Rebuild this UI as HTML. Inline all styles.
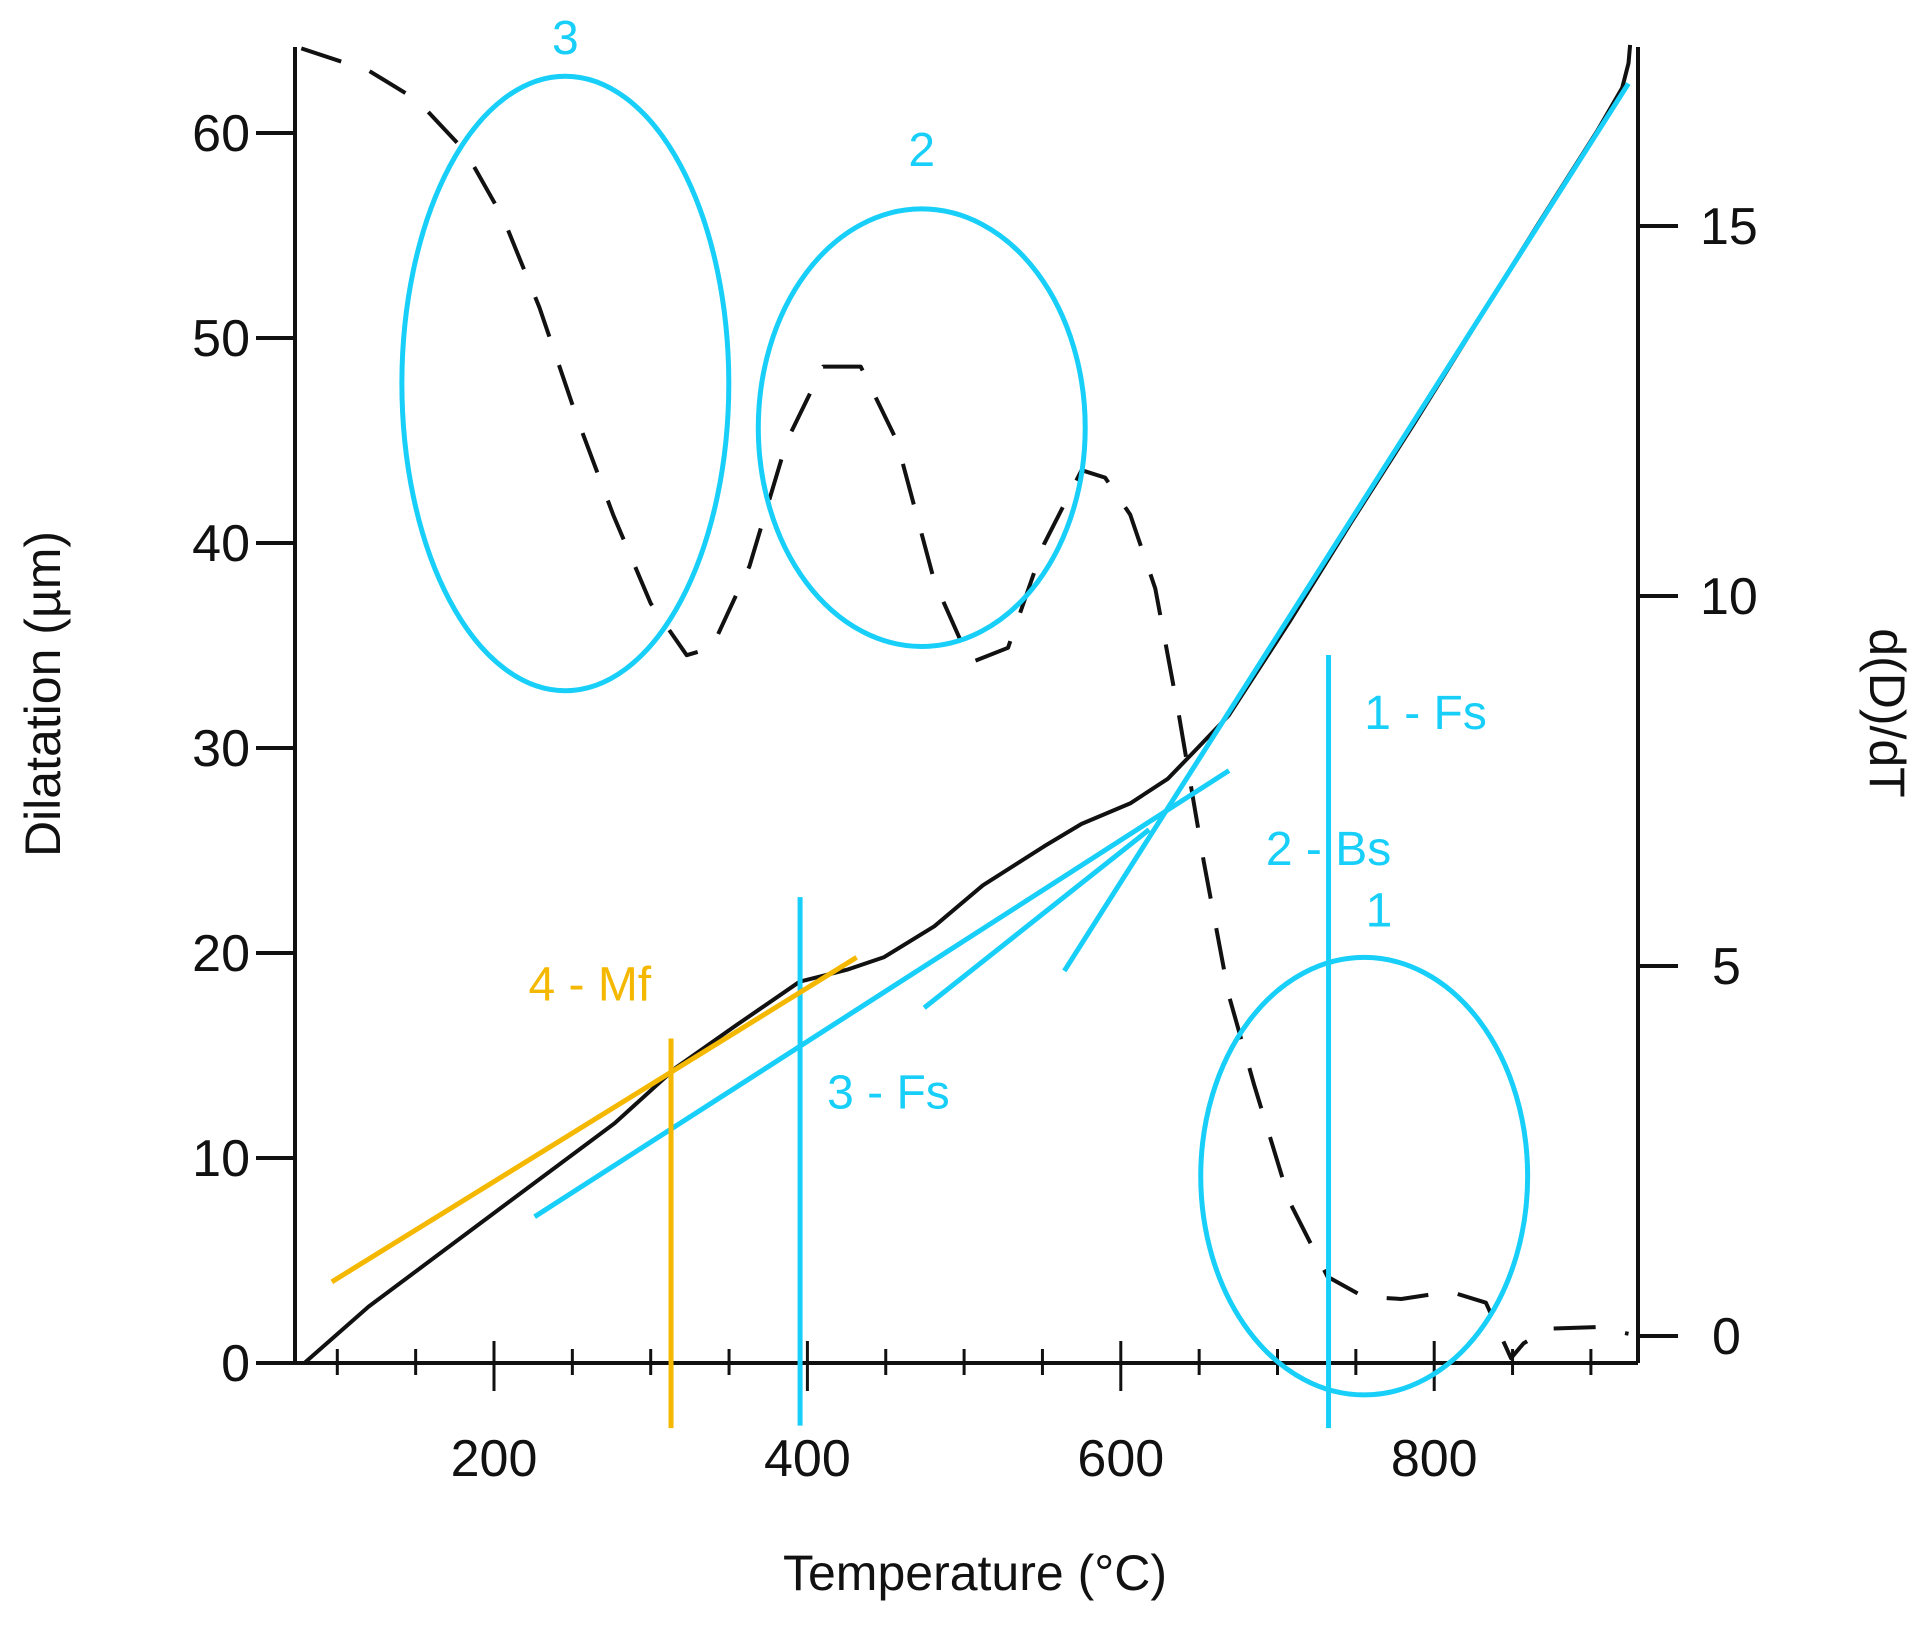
<!DOCTYPE html>
<html><head><meta charset="utf-8"><style>
html,body{margin:0;padding:0;background:#fff;}
svg{display:block;font-family:"Liberation Sans","DejaVu Sans",sans-serif;}
</style></head><body>
<svg id="chart" width="1917" height="1626" viewBox="0 0 1917 1626" xmlns="http://www.w3.org/2000/svg">
<g id="axes"></g>
<g id="series"></g>
<g id="overlay"></g>
<text x="975" y="1590" font-size="50" text-anchor="middle" fill="#111">Temperature (°C)</text>
<text x="0" y="0" font-size="50" text-anchor="middle" fill="#111" transform="translate(60,694) rotate(-90)">Dilatation (µm)</text>
<text x="0" y="0" font-size="50" text-anchor="middle" fill="#111" transform="translate(1870,713) rotate(90)">d(D)/dT</text>
</svg>
<script>
const xTicks=[200,400,600,800];
const yTicksLeft=[0,10,20,30,40,50,60];
const yTicksRight=[0,5,10,15];
const solidT=[79,120,198,277,316,355,395,426,449,481,512,551,575,606,630,649,669,708,747,787,826,865,904,920,924,925];
const solidV=[0,2.75,7.2,11.7,14.4,16.5,18.6,19.2,19.8,21.3,23.3,25.2,26.3,27.3,28.5,30,31.6,36.2,41,45.8,50.6,55.4,60.1,62.2,63.4,64.3];
const derivT=[77,120,151,182,206,229,253,276,300,323,339,363,387,410,434,457,481,504,528,551,575,590,606,622,637,653,669,685,708,732,755,779,810,833,849,857,873,904,924];
const derivD=[17.4,17.1,16.7,16.0,15.1,13.9,12.4,11.1,9.9,9.2,9.3,10.4,12.1,13.1,13.1,12.1,10.2,9.1,9.3,10.7,11.7,11.6,11.1,10.1,8.4,6.4,4.6,3.4,1.8,0.8,0.53,0.5,0.6,0.45,-0.3,-0.1,0.1,0.12,0.03];

const NS="http://www.w3.org/2000/svg";
const X=t=>494+(t-200)*1.567;
const YL=v=>1363-v*20.5;
const YR=d=>1336-d*74;
const S=1.229;
function mk(tag,attrs,parent){const e=document.createElementNS(NS,tag);for(const k in attrs)e.setAttribute(k,attrs[k]);parent.appendChild(e);return e;}
const axesG=document.getElementById('axes'),seriesG=document.getElementById('series'),ov=document.getElementById('overlay');
const pL=295,pR=1638,pT=47,pB=1363;
let e;
e=mk('line',{x1:pL,y1:pT,x2:pL,y2:pB,stroke:'#111','stroke-width':4},axesG);


e=mk('line',{x1:pR,y1:pT,x2:pR,y2:pB,stroke:'#111','stroke-width':4},axesG);


e=mk('line',{x1:pL-10,y1:pB,x2:pR,y2:pB,stroke:'#111','stroke-width':4},axesG);


for(let t=100;t<=900;t+=50){const major=xTicks.includes(t);
 e=mk('line',{x1:X(t),y1:pB-(major?22:14),x2:X(t),y2:pB+(major?28:12),stroke:'#111','stroke-width':3},axesG);
 
 }
xTicks.forEach(t=>{e=mk('text',{x:X(t),y:1476,'font-size':52,'text-anchor':'middle',fill:'#111'},axesG);e.textContent=t;
 
 });
yTicksLeft.forEach(v=>{e=mk('line',{x1:256,y1:YL(v),x2:pL,y2:YL(v),stroke:'#111','stroke-width':4},axesG);
 
 
 e=mk('text',{x:250,y:YL(v)+18,'font-size':52,'text-anchor':'end',fill:'#111'},axesG);e.textContent=v;
 
 });
yTicksRight.forEach(d=>{e=mk('line',{x1:pR,y1:YR(d),x2:1678,y2:YR(d),stroke:'#111','stroke-width':4},axesG);
 
 
 e=mk('text',{x:d>=10?1700:1712,y:YR(d)+18,'font-size':52,'text-anchor':'start',fill:'#111'},axesG);e.textContent=d;
 
 });
e=mk('path',{d:solidT.map((t,i)=>(i?'L':'M')+X(t).toFixed(1)+','+YL(solidV[i]).toFixed(1)).join(' '),fill:'none',stroke:'#111','stroke-width':4,'stroke-linejoin':'round'},seriesG);


e=mk('path',{d:derivT.map((t,i)=>(i?'L':'M')+X(t).toFixed(1)+','+YR(derivD[i]).toFixed(1)).join(' '),fill:'none',stroke:'#111','stroke-width':4,'stroke-dasharray':'42 30','stroke-linejoin':'round'},seriesG);


const C='#17cff8',O='#f5b800';
const ells=[['ellipse-3',460,312,133,250],['ellipse-2',750,348,133,178],['ellipse-1',1110,957,133,178]];
ells.forEach(a=>{e=mk('ellipse',{cx:a[1]*S,cy:a[2]*S,rx:a[3]*S,ry:a[4]*S,fill:'none',stroke:C,'stroke-width':5},ov);
 
 });
const lines=[['tangent-line-1',435,990,1000,627,C],['tangent-line-2',752,820,935,675,C],['tangent-line-3',866,790,1325,68,C],['fs3-marker',651,730,651,1160,C],['fs1-marker',1081,533,1081,1162,C],['mf-tangent',270,1043,697,779,O],['mf-marker',546,845,546,1162,O]];
lines.forEach(a=>{e=mk('line',{x1:a[1]*S,y1:a[2]*S,x2:a[3]*S,y2:a[4]*S,stroke:a[5],'stroke-width':5},ov);
 
 });
const labels=[['label-3','3',460,44,'middle',C],['label-2','2',750,135,'middle',C],['label-1','1',1122,754,'middle',C],['label-1-fs','1 - Fs',1110,593,'start',C],['label-2-bs','2 - Bs',1030,704,'start',C],['label-3-fs','3 - Fs',673,902,'start',C],['label-4-mf','4 - Mf',430,814,'start',O]];
labels.forEach(a=>{e=mk('text',{x:a[2]*S,y:a[3]*S,'font-size':48,'text-anchor':a[4],fill:a[5]},ov);e.textContent=a[1];
 
 });
</script>
</body></html>
